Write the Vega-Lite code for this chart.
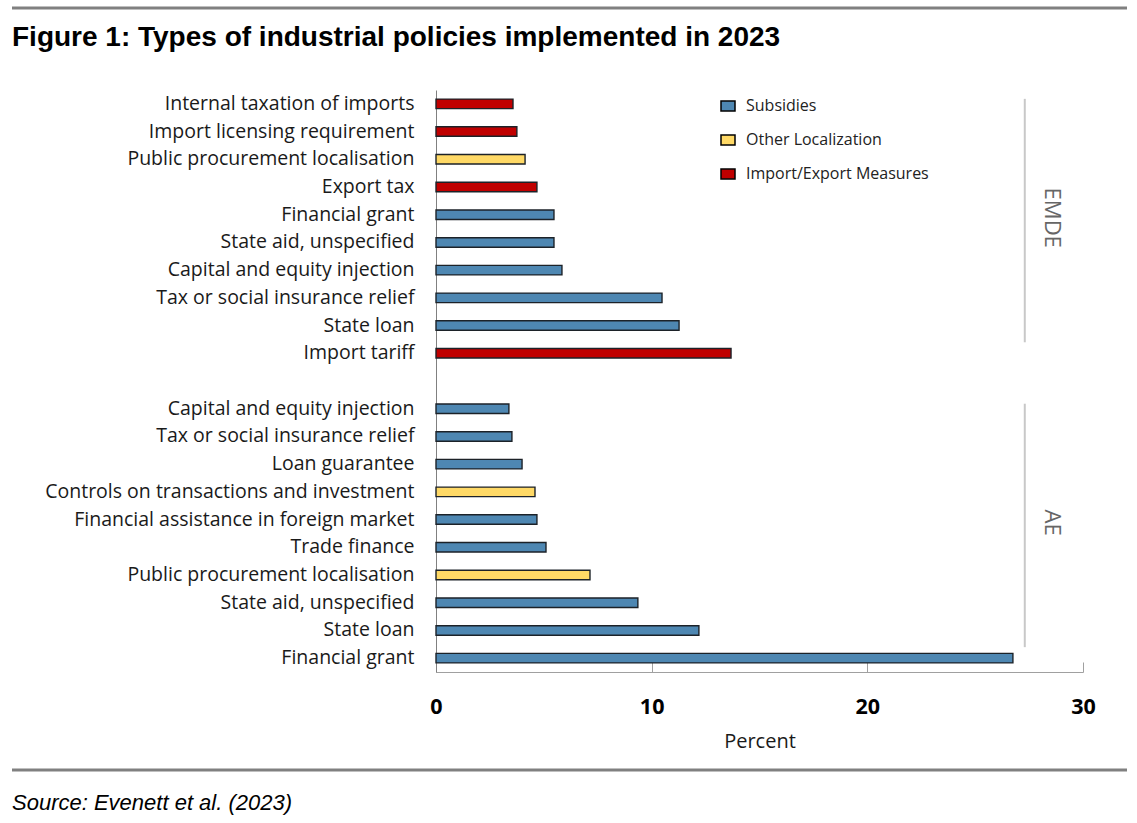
{
  "$schema": "https://vega.github.io/schema/vega-lite/v6.json",
  "width": 647,
  "height": 582,
  "autosize": "none",
  "padding": {"left": 436, "top": 90, "right": 54, "bottom": 151},
  "background": "white",
  "config": {"view": {"stroke": null}, "font": "Open Sans"},
  "title": {
    "text": "Figure 1: Types of industrial policies implemented in 2023",
    "anchor": "start",
    "frame": "group",
    "dx": -424,
    "offset": 0,
    "dy": 67,
    "font": "Liberation Sans",
    "fontSize": 28,
    "fontWeight": "bold",
    "color": "#000000",
    "baseline": "alphabetic"
  },
  "layer": [
    {
      "data": {"values": [
        {"key": "EMDE|Internal taxation of imports", "value": 3.57, "type": "Import/Export Measures"},
        {"key": "EMDE|Import licensing requirement", "value": 3.75, "type": "Import/Export Measures"},
        {"key": "EMDE|Public procurement localisation", "value": 4.13, "type": "Other Localization"},
        {"key": "EMDE|Export tax", "value": 4.68, "type": "Import/Export Measures"},
        {"key": "EMDE|Financial grant", "value": 5.47, "type": "Subsidies"},
        {"key": "EMDE|State aid, unspecified", "value": 5.47, "type": "Subsidies"},
        {"key": "EMDE|Capital and equity injection", "value": 5.84, "type": "Subsidies"},
        {"key": "EMDE|Tax or social insurance relief", "value": 10.48, "type": "Subsidies"},
        {"key": "EMDE|State loan", "value": 11.27, "type": "Subsidies"},
        {"key": "EMDE|Import tariff", "value": 13.68, "type": "Import/Export Measures"},
        {"key": "AE|Capital and equity injection", "value": 3.38, "type": "Subsidies"},
        {"key": "AE|Tax or social insurance relief", "value": 3.52, "type": "Subsidies"},
        {"key": "AE|Loan guarantee", "value": 3.99, "type": "Subsidies"},
        {"key": "AE|Controls on transactions and investment", "value": 4.59, "type": "Other Localization"},
        {"key": "AE|Financial assistance in foreign market", "value": 4.68, "type": "Subsidies"},
        {"key": "AE|Trade finance", "value": 5.10, "type": "Subsidies"},
        {"key": "AE|Public procurement localisation", "value": 7.14, "type": "Other Localization"},
        {"key": "AE|State aid, unspecified", "value": 9.36, "type": "Subsidies"},
        {"key": "AE|State loan", "value": 12.19, "type": "Subsidies"},
        {"key": "AE|Financial grant", "value": 26.75, "type": "Subsidies"}
      ]},
      "mark": {"type": "bar", "size": 9.5, "stroke": "#1c2228", "strokeWidth": 1.4},
      "encoding": {
        "y": {
          "field": "key",
          "type": "nominal",
          "scale": {
            "domain": [
              "EMDE|Internal taxation of imports",
              "EMDE|Import licensing requirement",
              "EMDE|Public procurement localisation",
              "EMDE|Export tax",
              "EMDE|Financial grant",
              "EMDE|State aid, unspecified",
              "EMDE|Capital and equity injection",
              "EMDE|Tax or social insurance relief",
              "EMDE|State loan",
              "EMDE|Import tariff",
              "gap",
              "AE|Capital and equity injection",
              "AE|Tax or social insurance relief",
              "AE|Loan guarantee",
              "AE|Controls on transactions and investment",
              "AE|Financial assistance in foreign market",
              "AE|Trade finance",
              "AE|Public procurement localisation",
              "AE|State aid, unspecified",
              "AE|State loan",
              "AE|Financial grant"
            ],
            "paddingInner": 0,
            "paddingOuter": 0
          },
          "axis": {
            "title": null,
            "labelExpr": "indexof(datum.value, '|') >= 0 ? split(datum.value, '|')[1] : ''",
            "labelFont": "Open Sans",
            "labelFontSize": 19.5,
            "labelColor": "#1a1a1a",
            "labelLimit": 600,
            "ticks": false,
            "labelPadding": 22,
            "domainColor": "#808080",
            "domainWidth": 1
          }
        },
        "x": {
          "field": "value",
          "type": "quantitative",
          "scale": {"domain": [0, 30], "nice": false},
          "axis": {
            "title": "Percent",
            "titleFont": "Open Sans",
            "titleFontSize": 20,
            "titleFontWeight": "normal",
            "titleColor": "#1a1a1a",
            "titlePadding": 14,
            "values": [0, 10, 20, 30],
            "grid": false,
            "labelFont": "Open Sans",
            "labelFontSize": 21.5,
            "labelFontWeight": "bold",
            "labelColor": "#000000",
            "labelFlush": false,
            "labelPadding": 34,
            "tickSize": -10,
            "tickColor": "#a0a0a0",
            "domainColor": "#a0a0a0"
          }
        },
        "color": {
          "field": "type",
          "type": "nominal",
          "scale": {
            "domain": ["Subsidies", "Other Localization", "Import/Export Measures"],
            "range": ["#4e87b2", "#ffd966", "#c00000"]
          },
          "legend": {
            "orient": "none",
            "legendX": 284,
            "legendY": 8,
            "title": null,
            "padding": 0,
            "symbolType": "M-1,-0.7H1V0.7H-1Z",
            "symbolSize": 196,
            "symbolStrokeColor": "#000000",
            "symbolStrokeWidth": 1.5,
            "labelFont": "Open Sans",
            "labelFontSize": 16,
            "labelColor": "#222222",
            "labelLimit": 400,
            "labelOffset": 10,
            "rowPadding": 18
          }
        }
      }
    },
    {
      "data": {"values": [
        {"group": "EMDE", "start": "EMDE|Internal taxation of imports", "end": "EMDE|Import tariff"},
        {"group": "AE", "start": "AE|Capital and equity injection", "end": "AE|Financial grant"}
      ]},
      "mark": {"type": "rule", "color": "#c8c8c8", "strokeWidth": 2, "yOffset": -5, "y2Offset": -11},
      "encoding": {
        "x": {"datum": 27.3},
        "y": {"field": "start", "type": "nominal"},
        "y2": {"field": "end"}
      }
    },
    {
      "data": {"values": [
        {"group": "EMDE", "at": "EMDE|Financial grant"},
        {"group": "AE", "at": "AE|Financial assistance in foreign market"}
      ]},
      "mark": {"type": "text", "angle": 90, "font": "Open Sans", "fontSize": 22, "color": "#666666", "align": "center", "baseline": "middle", "yOffset": 3},
      "encoding": {
        "x": {"datum": 28.55},
        "y": {"field": "at", "type": "nominal"},
        "text": {"field": "group"}
      }
    },
    {
      "data": {"values": [{"line": "top"}]},
      "mark": {"type": "rule", "color": "#808080", "strokeWidth": 3},
      "encoding": {
        "x": {"value": -424},
        "x2": {"value": 691},
        "y": {"value": -82}
      }
    },
    {
      "data": {"values": [{"line": "bottom"}]},
      "mark": {"type": "rule", "color": "#808080", "strokeWidth": 3},
      "encoding": {
        "x": {"value": -424},
        "x2": {"value": 691},
        "y": {"value": 680}
      }
    },
    {
      "data": {"values": [{"note": "Source: Evenett et al. (2023)"}]},
      "mark": {"type": "text", "font": "Liberation Sans", "fontSize": 22, "fontStyle": "italic", "color": "#000000", "align": "left", "baseline": "middle"},
      "encoding": {
        "x": {"value": -424},
        "y": {"value": 713},
        "text": {"field": "note"}
      }
    }
  ]
}
